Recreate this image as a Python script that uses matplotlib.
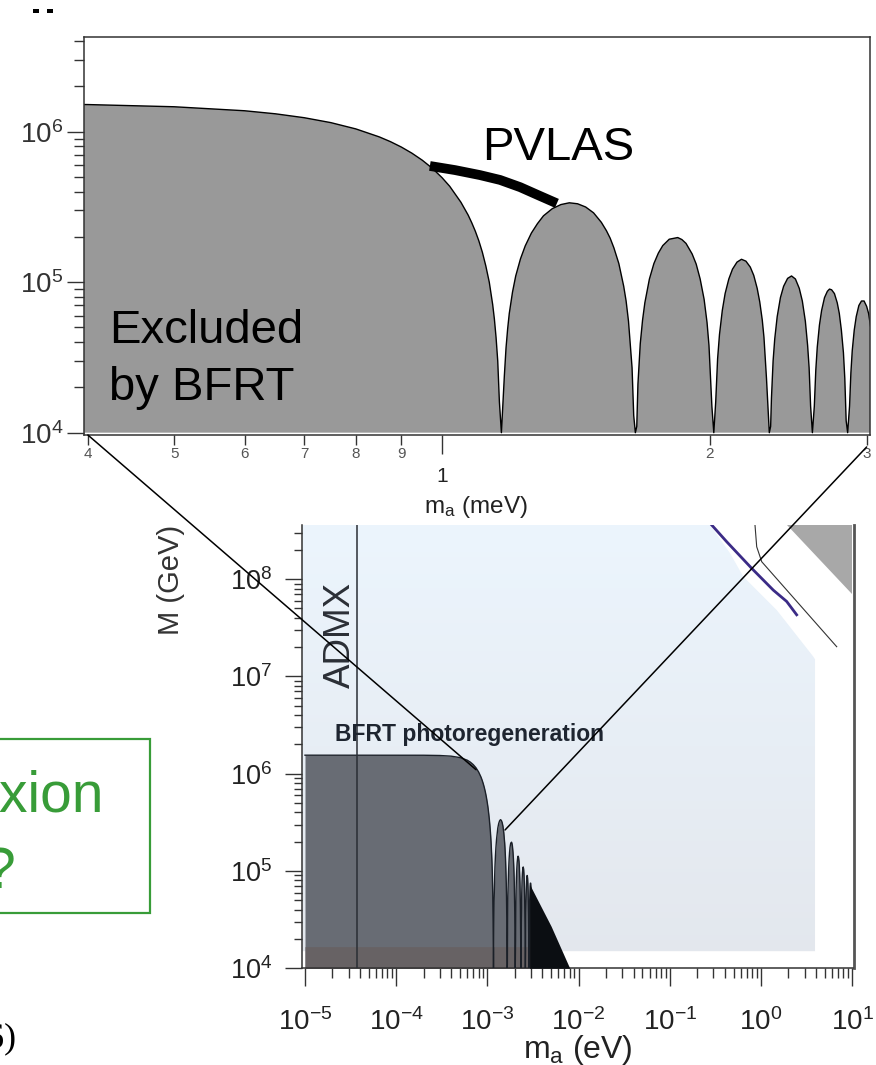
import numpy as np
import matplotlib
matplotlib.use("Agg")
import matplotlib.pyplot as plt
from matplotlib.patches import Polygon, Rectangle, ConnectionPatch
from matplotlib.colors import LinearSegmentedColormap
from matplotlib.ticker import LogLocator, NullFormatter

plt.rcParams['font.family'] = ['Liberation Sans', 'DejaVu Sans']
plt.rcParams['mathtext.fontset'] = 'custom'
plt.rcParams['mathtext.rm'] = 'Liberation Sans'
plt.rcParams['mathtext.it'] = 'Liberation Sans'
plt.rcParams['mathtext.bf'] = 'Liberation Sans:bold'

# BFRT photoregeneration limit (m_a in meV, M in GeV)
m_meV = [0.01, 0.10, 0.20, 0.30, 0.40, 0.50, 0.60, 0.65, 0.70, 0.75, 0.80,
         0.85, 0.875, 0.90, 0.925, 0.95, 0.975, 1.00, 1.02, 1.05, 1.07, 1.08,
         1.09, 1.10, 1.11, 1.12, 1.13, 1.14, 1.145, 1.15, 1.155, 1.16, 1.166,
         # lobe 1
         1.175, 1.18, 1.185, 1.19, 1.20, 1.21, 1.225, 1.24, 1.26, 1.28, 1.30,
         1.33, 1.36, 1.39, 1.42, 1.45, 1.48, 1.51, 1.53, 1.545, 1.56, 1.58,
         1.60, 1.61, 1.62, 1.635, 1.642, 1.649,
         # lobe 2
         1.655, 1.66, 1.67, 1.68, 1.69, 1.71, 1.73, 1.75, 1.77, 1.80, 1.84,
         1.86, 1.88, 1.91, 1.93, 1.95, 1.97, 1.985, 1.995, 2.01, 2.020,
         # lobe 3
         2.03, 2.04, 2.05, 2.065, 2.08, 2.10, 2.12, 2.145, 2.17, 2.195, 2.22,
         2.24, 2.26, 2.275, 2.29, 2.30, 2.315, 2.332,
         # lobe 4
         2.34, 2.345, 2.355, 2.365, 2.38, 2.40, 2.42, 2.445, 2.47, 2.495, 2.52,
         2.54, 2.56, 2.575, 2.585, 2.595, 2.607,
         # lobe 5
         2.62, 2.63, 2.64, 2.655, 2.67, 2.69, 2.71, 2.725, 2.74, 2.76, 2.78,
         2.795, 2.81, 2.825, 2.835, 2.845, 2.856,
         # lobe 6
         2.87, 2.88, 2.89, 2.905, 2.92, 2.94, 2.96, 2.98, 3.00, 3.015, 3.03]
M_GeV = [1.55e6, 1.55e6, 1.548e6, 1.539e6, 1.515e6, 1.465e6, 1.378e6, 1.315e6,
         1.239e6, 1.149e6, 1.044e6,
         9.24e5, 8.59e5, 7.91e5, 7.20e5, 6.47e5, 5.72e5, 4.95e5, 4.34e5, 3.40e5,
         2.79e5, 2.48e5,
         2.18e5, 1.88e5, 1.58e5, 1.28e5, 1.00e5, 7.1e4, 5.7e4, 4.3e4, 3.0e4,
         1.6e4, 1.0e4,
         2.4e4, 3.65e4, 4.9e4, 6.2e4, 8.6e4, 1.10e5, 1.43e5, 1.74e5, 2.12e5,
         2.45e5, 2.76e5,
         3.08e5, 3.28e5, 3.37e5, 3.32e5, 3.16e5, 2.89e5, 2.50e5, 2.20e5, 1.96e5,
         1.69e5, 1.33e5,
         9.4e4, 7.5e4, 5.5e4, 2.7e4, 1.3e4, 1.0e4,
         1.1e4, 2.1e4, 3.9e4, 5.6e4, 7.3e4, 1.05e5, 1.33e5, 1.56e5, 1.75e5,
         1.93e5, 1.98e5,
         1.92e5, 1.81e5, 1.54e5, 1.32e5, 1.05e5, 7.7e4, 5.4e4, 3.8e4, 1.5e4, 1.0e4,
         1.6e4, 3.1e4, 4.5e4, 6.5e4, 8.4e4, 1.05e5, 1.22e5, 1.36e5, 1.42e5,
         1.38e5, 1.26e5,
         1.11e5, 9.1e4, 7.4e4, 5.6e4, 4.3e4, 2.3e4, 1.0e4,
         1.1e4, 1.7e4, 3.0e4, 4.2e4, 5.9e4, 7.9e4, 9.4e4, 1.06e5, 1.10e5,
         1.05e5, 9.1e4,
         7.5e4, 5.5e4, 3.8e4, 2.7e4, 1.5e4, 1.0e4,
         1.5e4, 2.6e4, 3.7e4, 5.2e4, 6.5e4, 7.9e4, 8.7e4, 9.0e4, 8.9e4, 8.4e4,
         7.3e4,
         6.2e4, 4.8e4, 3.4e4, 2.3e4, 1.2e4, 1.0e4,
         1.5e4, 2.5e4, 3.5e4, 4.8e4, 5.9e4, 7.0e4, 7.5e4, 7.5e4, 6.9e4, 6.2e4,
         5.1e4]

# PVLAS signal band (meV, GeV)
pvlas_m = [0.969, 1.034, 1.103, 1.162, 1.224, 1.282, 1.346]
pvlas_M = [5.92e5, 5.56e5, 5.15e5, 4.78e5, 4.28e5, 3.79e5, 3.34e5]

# dense oscillations in the lower panel merge into a black wedge (eV, GeV)
env_m = [2.9e-3, 5.0e-3, 8.0e-3]
env_M = [7.3e4, 2.7e4, 1.0e4]

# light-blue region of the lower panel (eV, GeV)
blue_m = [9e-6, 0.276, 0.457, 0.640, 1.49, 3.74, 3.91, 3.91, 9e-6]
blue_M = [3.6e8, 3.6e8, 1.85e8, 1.06e8, 4.8e7, 1.6e7, 1.5e7, 1.5e4, 1.5e4]

# other curves in the upper right corner of the lower panel
purple_m = [0.288, 0.421, 0.791, 1.365, 1.91, 2.46]
purple_M = [3.6e8, 2.42e8, 1.29e8, 7.7e7, 5.9e7, 4.3e7]
thin_m = [0.859, 0.897, 1.018, 6.76]
thin_M = [3.6e8, 2.15e8, 1.51e8, 2.02e7]
tri_m = [1.91, 9.89, 9.89]
tri_M = [3.6e8, 3.6e8, 7.1e7]

admx_m = 3.75e-5
band_top = 1.67e4

top_major = [1.0]
top_major_labels = ['1']
top_minor = [0.4, 0.5, 0.6, 0.7, 0.8, 0.9, 2.0, 3.0]
top_minor_labels = ['4', '5', '6', '7', '8', '9', '2', '3']
top_yticks = [1e4, 1e5, 1e6]
top_ylabels = [r'$10^{4}$', r'$10^{5}$', r'$10^{6}$']
low_xticks = [1e-5, 1e-4, 1e-3, 1e-2, 1e-1, 1e0, 1e1]
low_xlabels = [r'$10^{-5}$', r'$10^{-4}$', r'$10^{-3}$', r'$10^{-2}$',
               r'$10^{-1}$', r'$10^{0}$', r'$10^{1}$']
low_yticks = [1e4, 1e5, 1e6, 1e7, 1e8]
low_ylabels = [r'$10^{4}$', r'$10^{5}$', r'$10^{6}$', r'$10^{7}$', r'$10^{8}$']

W, H = 876, 1065
fig = plt.figure(figsize=(W / 100, H / 100), dpi=100)


def fx(px):
    return px / W


def fy(py):
    return 1 - py / H


def box(l, t, r, b):
    return [l / W, 1 - b / H, (r - l) / W, (b - t) / H]


# ---------- lower panel: full parameter space ----------
ax_low = fig.add_axes(box(301.7, 525, 853.5, 968.3))
ax_low.set_xscale('log')
ax_low.set_yscale('log')
ax_low.set_xlim(9.2e-6, 10.33)
ax_low.set_ylim(1e4, 3.6e8)
ax_low.set_autoscale_on(False)

bg_poly = Polygon(np.column_stack([blue_m, blue_M]), closed=True,
                  facecolor='none', edgecolor='none')
ax_low.add_patch(bg_poly)
grad = np.linspace(0, 1, 256).reshape(-1, 1)
cmap = LinearSegmentedColormap.from_list('bg', ['#e3e7ed', '#ecf5fd'])
im = ax_low.imshow(grad, cmap=cmap, origin='lower', extent=(0, 1, 0, 1),
                   transform=ax_low.transAxes, aspect='auto', zorder=0.5)
im.set_clip_path(bg_poly)

ax_low.add_patch(Polygon(np.column_stack([tri_m, tri_M]), closed=True,
                         facecolor='#a8a8a8', edgecolor='none', zorder=1))
ax_low.plot(purple_m, purple_M, color='#3b2b86', lw=2.0, zorder=2)
ax_low.plot(thin_m, thin_M, color='#333333', lw=0.8, zorder=2)

m_eV = np.array(m_meV) * 1e-3
M_arr = np.array(M_GeV)
ax_low.fill_between(m_eV, 1e4, M_arr, color='#686c74', lw=0, zorder=2)
ax_low.fill_between(m_eV, 1e4, np.minimum(M_arr, band_top), color='#676264',
                    lw=0, zorder=2.1)
ax_low.plot(m_eV, M_arr, color='#1b2028', lw=1.0, zorder=3)
ax_low.fill_between(env_m, 1e4, env_M, color='#0b0e12', lw=0, zorder=3.5)
ax_low.axvline(admx_m, color='#2a2e35', lw=1.1, zorder=4)

ax_low.text(2.42e-5, 2.7e7, 'ADMX', rotation=90, ha='center', va='center',
            fontsize=26.5, color='#2b2f36', zorder=5)
ax_low.text(2.13e-5, 2.16e6, 'BFRT photoregeneration', fontsize=16.5,
            fontweight='bold', color='#1e2530', va='baseline', zorder=5)

ax_low.spines['top'].set_visible(False)
ax_low.spines['right'].set_color('#555555')
ax_low.spines['right'].set_linewidth(2.0)
for s in ('left', 'bottom'):
    ax_low.spines[s].set_color('#333333')
    ax_low.spines[s].set_linewidth(1.1)

ax_low.set_xticks(low_xticks, labels=low_xlabels)
ax_low.set_yticks(low_yticks, labels=low_ylabels)
ax_low.xaxis.set_minor_locator(LogLocator(base=10, subs=np.arange(2, 10), numticks=100))
ax_low.yaxis.set_minor_locator(LogLocator(base=10, subs=np.arange(2, 10), numticks=100))
ax_low.xaxis.set_minor_formatter(NullFormatter())
ax_low.yaxis.set_minor_formatter(NullFormatter())
ax_low.tick_params(which='both', direction='out', color='#333333', width=1.0,
                   labelcolor='#222222')
ax_low.tick_params(axis='x', which='major', length=13, pad=16, labelsize=20)
ax_low.tick_params(axis='x', which='minor', length=7)
ax_low.tick_params(axis='y', which='major', length=12, pad=9, labelsize=19.5)
ax_low.tick_params(axis='y', which='minor', length=6)

fig.text(fx(578), fy(1058), r'm$_{a}$ (eV)', ha='center', va='baseline',
         fontsize=23, color='#222222')
fig.text(fx(171), fy(580), 'M (GeV)', rotation=90, ha='center', va='center',
         fontsize=21, color='#333333')

# ---------- upper panel: zoom on the BFRT oscillations ----------
ax_top = fig.add_axes(box(84, 37.3, 870, 435))
ax_top.set_xscale('log')
ax_top.set_yscale('log')
ax_top.fill_between(m_meV, 1e4, M_GeV, color='#999999', lw=0, zorder=1)
ax_top.plot(m_meV, M_GeV, color='black', lw=1.0, zorder=2)
ax_top.plot(pvlas_m, pvlas_M, color='black', lw=7, solid_capstyle='butt',
            solid_joinstyle='round', zorder=2)
ax_top.set_xlim(0.396, 3.026)
ax_top.set_ylim(9.65e3, 4.24e6)

ax_top.text(1.11, 6.49e5, 'PVLAS', fontsize=34, va='baseline', color='black')
ax_top.text(0.423, 3.93e4, 'Excluded', fontsize=34, va='baseline', color='black')
ax_top.text(0.423, 1.65e4, 'by BFRT', fontsize=34, va='baseline', color='black')

ax_top.set_xticks(top_major, labels=top_major_labels)
ax_top.set_xticks(top_minor, labels=top_minor_labels, minor=True)
ax_top.set_yticks(top_yticks, labels=top_ylabels)
ax_top.yaxis.set_minor_locator(LogLocator(base=10, subs=np.arange(2, 10), numticks=100))
ax_top.yaxis.set_minor_formatter(NullFormatter())
ax_top.tick_params(which='both', direction='out', color='#333333', width=1.0)
ax_top.tick_params(axis='x', which='major', length=14, pad=9, labelsize=15,
                   labelcolor='#222222')
ax_top.tick_params(axis='x', which='minor', length=7, pad=1.5, labelsize=11,
                   labelcolor='#555555')
ax_top.tick_params(axis='y', which='major', length=12, pad=3, labelsize=20,
                   labelcolor='#333333')
ax_top.tick_params(axis='y', which='minor', length=7)
for s in ax_top.spines.values():
    s.set_color('#333333')
    s.set_linewidth(1.1)

fig.text(fx(476), fy(513), r'm$_{a}$ (meV)', ha='center', va='baseline',
         fontsize=17.5, color='#222222')

# zoom connectors between the two panels
con1 = ConnectionPatch(xyA=(0.4, 0.0), coordsA=ax_top.get_xaxis_transform(),
                       xyB=(7.5e-4, 1.1e6), coordsB=ax_low.transData,
                       color='black', lw=1.1, zorder=10)
con2 = ConnectionPatch(xyA=(3.0, -0.03), coordsA=ax_top.get_xaxis_transform(),
                       xyB=(1.56e-3, 2.64e5), coordsB=ax_low.transData,
                       color='black', lw=1.1, zorder=10)
fig.add_artist(con1)
fig.add_artist(con2)

# slide leftovers around the figure
green = '#389c38'
fig.add_artist(Rectangle((fx(-10), fy(913.3)), fx(160), (913.3 - 739) / H,
                         transform=fig.transFigure, fill=False,
                         edgecolor=green, lw=1.6))
fig.text(fx(104), fy(811.7), 'Axion', ha='right', va='baseline',
         fontsize=41, color=green)
fig.text(fx(15.5), fy(888), '?', ha='right', va='baseline',
         fontsize=41, color=green)
fig.text(fx(17), fy(1047), '(2006)', ha='right', va='baseline', fontsize=26,
         family='Liberation Serif', color='black')
for px in (33, 47):
    fig.add_artist(Rectangle((fx(px), fy(13)), 6 / W, 4 / H,
                             transform=fig.transFigure, color='black', lw=0))

fig.savefig('out.png', dpi=100)
